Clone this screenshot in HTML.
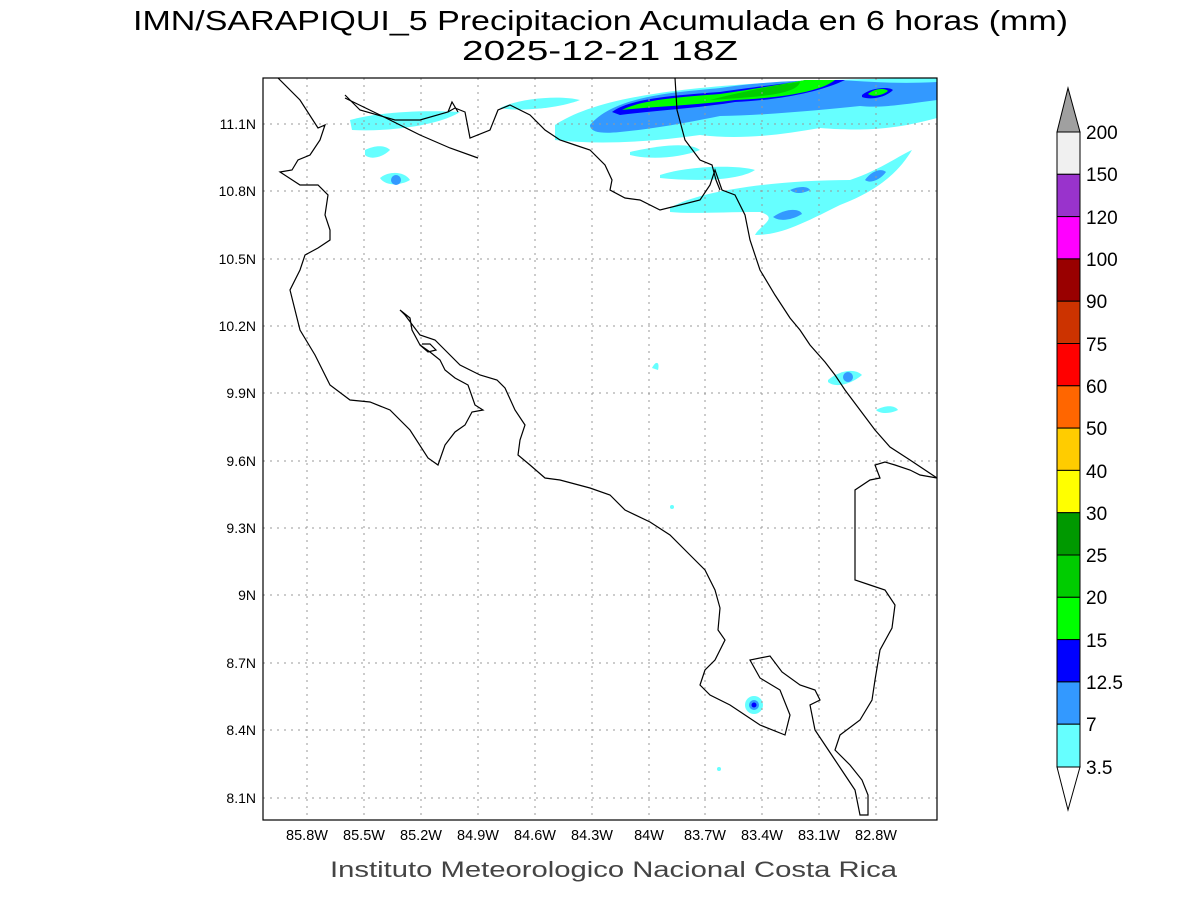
<!DOCTYPE html>
<html><head><style>body{margin:0;background:#fff}svg{display:block}</style></head><body>
<svg width="1200" height="900" xmlns="http://www.w3.org/2000/svg" font-family="Liberation Sans, sans-serif">
<rect width="1200" height="900" fill="#fff"/>
<text x="133" y="30" font-size="28" textLength="935" lengthAdjust="spacingAndGlyphs" fill="#000">IMN/SARAPIQUI_5 Precipitacion Acumulada en 6 horas (mm)</text>
<text x="462" y="60" font-size="28" textLength="276" lengthAdjust="spacingAndGlyphs" fill="#000">2025-12-21 18Z</text>
<defs><clipPath id="c"><rect x="263" y="78" width="674" height="742"/></clipPath></defs>
<g clip-path="url(#c)">
<g fill="#66ffff">
<path d="M555,125 C600,95 700,80 937,78 L937,118 C900,128 870,132 820,128 C780,135 740,140 700,135 C650,142 600,145 555,140 Z"/>
<path d="M500,108 C520,98 560,95 580,100 C560,108 520,112 500,108Z"/>
<path d="M350,120 C380,112 420,110 460,112 C440,125 390,132 352,130Z"/>
<path d="M365,150 C375,145 385,145 390,150 C382,158 370,160 365,155Z"/>
<path d="M380,178 C390,170 405,172 410,180 C400,186 385,186 380,178Z"/>
<path d="M630,152 C660,145 690,142 700,150 C680,158 650,160 630,155Z"/>
<path d="M660,175 C690,165 740,165 755,170 C740,180 700,182 660,178Z"/>
<path d="M670,208 C700,190 780,180 850,180 C880,170 900,155 912,150 C900,170 880,190 840,205 C800,225 780,235 755,235 C760,225 780,218 760,212 C720,212 690,214 670,212Z"/>
<path d="M828,380 C840,370 855,368 862,375 C850,385 835,388 828,382Z"/>
<path d="M876,410 C885,405 895,405 898,410 C890,414 880,414 876,410Z"/>
<path d="M652,368 C656,360 660,362 658,370Z"/>
<circle cx="754" cy="705" r="9"/>
<circle cx="719" cy="769" r="2"/>
<circle cx="672" cy="507" r="2"/>
</g>
<g fill="#3399ff">
<path d="M590,125 C615,95 680,92 720,88 C760,82 800,80 840,80 C870,82 900,84 937,82 L937,100 C900,105 880,108 860,106 C820,110 770,115 720,116 C690,122 660,128 620,132 C600,134 590,132 590,125Z"/>
<path d="M865,180 C872,170 882,168 886,172 C880,180 870,184 865,180Z"/>
<path d="M773,217 C785,208 800,208 802,214 C792,220 780,222 773,217Z"/>
<path d="M790,190 C798,186 808,186 810,190 C802,194 795,194 790,190Z"/>
<circle cx="396" cy="180" r="5"/>
<circle cx="848" cy="377" r="5"/>
<circle cx="754" cy="705" r="5"/>
</g>
<g fill="#0000ff">
<path d="M612,112 C630,98 680,95 720,92 C760,86 800,82 805,80 L845,80 C820,92 780,100 735,102 C700,108 660,110 620,115Z"/>
<path d="M862,95 C870,88 888,86 893,90 C885,98 870,100 862,97Z"/>
<circle cx="754" cy="705" r="2.5"/>
</g>
<g fill="#00ff00">
<path d="M622,110 C640,100 680,97 720,94 C760,88 790,83 805,80 L835,80 C820,92 780,98 735,100 C700,105 660,106 622,110Z"/>
<path d="M868,94 C875,88 885,88 888,91 C882,96 872,97 868,94Z"/>
</g>
<g fill="#00cc00">
<path d="M710,100 C740,92 770,86 800,82 C798,92 770,96 740,98Z"/>
</g>
<g stroke="#999" stroke-width="1" stroke-dasharray="2,5">
<line x1="307" y1="78" x2="307" y2="820"/><line x1="364" y1="78" x2="364" y2="820"/><line x1="421" y1="78" x2="421" y2="820"/><line x1="478" y1="78" x2="478" y2="820"/><line x1="535" y1="78" x2="535" y2="820"/><line x1="592" y1="78" x2="592" y2="820"/><line x1="649" y1="78" x2="649" y2="820"/><line x1="705" y1="78" x2="705" y2="820"/><line x1="762" y1="78" x2="762" y2="820"/><line x1="819" y1="78" x2="819" y2="820"/><line x1="876" y1="78" x2="876" y2="820"/>
<line x1="263" y1="124" x2="937" y2="124"/><line x1="263" y1="191" x2="937" y2="191"/><line x1="263" y1="259" x2="937" y2="259"/><line x1="263" y1="326" x2="937" y2="326"/><line x1="263" y1="393" x2="937" y2="393"/><line x1="263" y1="461" x2="937" y2="461"/><line x1="263" y1="528" x2="937" y2="528"/><line x1="263" y1="595" x2="937" y2="595"/><line x1="263" y1="663" x2="937" y2="663"/><line x1="263" y1="730" x2="937" y2="730"/><line x1="263" y1="798" x2="937" y2="798"/>
</g>
<g fill="none" stroke="#000" stroke-width="1.2">
<polyline points="278,78 300,100 318,128 325,125 320,140 310,155 298,160 292,170 280,172 300,185 318,185 328,195 325,215 330,230 330,240 318,248 305,255 300,270 290,290 295,310 300,330 315,355 330,385 350,400 370,402 390,410 410,430 428,458 438,465 445,445 455,432 465,425 472,412 483,410 475,405 468,385 455,378 445,370 440,360 430,352 420,345 412,330 410,318 400,310 405,315 420,335 435,340 445,350 460,365 480,375 497,380 505,388 515,410 525,425 520,440 518,455 530,465 545,478 560,480 590,488 610,495 625,510 650,522 670,535 690,555 705,570 715,590 720,608 718,630 725,640 715,660 705,670 700,685 710,695 730,705 760,725 785,735 790,715 780,690 760,678 750,660 770,656 782,672 800,685 815,690 820,700 810,705 815,730 825,745 835,760 845,775 855,790 860,815 868,815 868,795 862,780 850,765 835,750 840,735 860,720 872,700 875,680 880,650 892,628 895,605 885,590 870,585 855,580 855,490 870,480 880,478 875,465 885,462 895,465 910,470 920,475 937,478"/>
<polyline points="345,95 360,110 395,120 420,120 448,112 455,108 465,112 470,138 490,130 498,110 510,105 530,115 545,130 560,140 575,145 590,150 605,165 612,180 610,190 625,198 640,200 660,210 680,205 700,200 710,185 715,170 722,190 735,195 745,215 750,240 760,270 775,295 790,318 800,330 810,345 825,362 835,375 845,390 860,410 875,430 890,447 910,460 937,478"/>
<polyline points="345,98 380,115 420,135 450,148 478,158"/>
<polyline points="675,78 677,110 685,140 700,160 712,165 716,180 720,190"/>
<polyline points="448,112 452,102 458,112"/>
<polyline points="420,345 428,352 436,350 430,344 422,344"/>
</g>
</g>
<rect x="263" y="78" width="674" height="742" fill="none" stroke="#000" stroke-width="1.2"/>
<g font-size="14" fill="#000" text-anchor="end">
<text x="256" y="129">11.1N</text><text x="256" y="196">10.8N</text><text x="256" y="264">10.5N</text><text x="256" y="331">10.2N</text><text x="256" y="398">9.9N</text><text x="256" y="466">9.6N</text><text x="256" y="533">9.3N</text><text x="256" y="600">9N</text><text x="256" y="668">8.7N</text><text x="256" y="735">8.4N</text><text x="256" y="803">8.1N</text>
</g>
<g font-size="14.5" fill="#000" text-anchor="middle">
<text x="307" y="840">85.8W</text><text x="364" y="840">85.5W</text><text x="421" y="840">85.2W</text><text x="478" y="840">84.9W</text><text x="535" y="840">84.6W</text><text x="592" y="840">84.3W</text><text x="649" y="840">84W</text><text x="705" y="840">83.7W</text><text x="762" y="840">83.4W</text><text x="819" y="840">83.1W</text><text x="876" y="840">82.8W</text>
</g>
<text x="330" y="877" font-size="22" textLength="567" lengthAdjust="spacingAndGlyphs" fill="#444">Instituto Meteorologico Nacional Costa Rica</text>
<g stroke="#000" stroke-width="1">
<polygon points="1057,132 1068,88 1080,132" fill="#a0a0a0"/>
<rect x="1057" y="132" width="23" height="42.3" fill="#f0f0f0"/>
<rect x="1057" y="174.3" width="23" height="42.3" fill="#9933cc"/>
<rect x="1057" y="216.6" width="23" height="42.3" fill="#ff00ff"/>
<rect x="1057" y="258.9" width="23" height="42.3" fill="#990000"/>
<rect x="1057" y="301.2" width="23" height="42.3" fill="#cc3300"/>
<rect x="1057" y="343.5" width="23" height="42.3" fill="#ff0000"/>
<rect x="1057" y="385.8" width="23" height="42.3" fill="#ff6600"/>
<rect x="1057" y="428.1" width="23" height="42.3" fill="#ffcc00"/>
<rect x="1057" y="470.4" width="23" height="42.3" fill="#ffff00"/>
<rect x="1057" y="512.7" width="23" height="42.3" fill="#009900"/>
<rect x="1057" y="555" width="23" height="42.3" fill="#00cc00"/>
<rect x="1057" y="597.3" width="23" height="42.3" fill="#00ff00"/>
<rect x="1057" y="639.6" width="23" height="42.3" fill="#0000ff"/>
<rect x="1057" y="681.9" width="23" height="42.3" fill="#3399ff"/>
<rect x="1057" y="724.2" width="23" height="42.8" fill="#66ffff"/>
<polygon points="1057,767 1068,810 1080,767" fill="#fff"/>
</g>
<g font-size="19" fill="#000">
<text x="1086" y="139">200</text><text x="1086" y="181">150</text><text x="1086" y="224">120</text><text x="1086" y="266">100</text><text x="1086" y="308">90</text><text x="1086" y="351">75</text><text x="1086" y="393">60</text><text x="1086" y="435">50</text><text x="1086" y="478">40</text><text x="1086" y="520">30</text><text x="1086" y="562">25</text><text x="1086" y="604">20</text><text x="1086" y="647">15</text><text x="1086" y="689">12.5</text><text x="1086" y="731">7</text><text x="1086" y="774">3.5</text>
</g>
</svg>
</body></html>
